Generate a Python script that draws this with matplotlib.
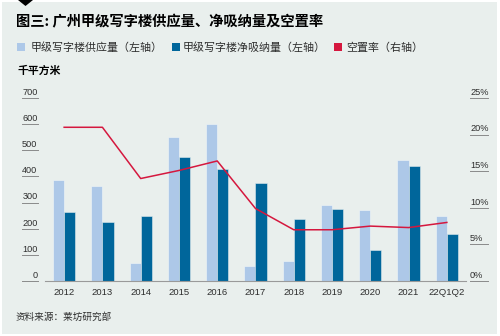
import matplotlib
matplotlib.use("Agg")
import matplotlib.pyplot as plt
import matplotlib.transforms as mtransforms
from matplotlib.patches import Rectangle, Polygon
import numpy as np

plt.rcParams['font.family'] = ['Noto Sans CJK SC', 'DejaVu Sans']

# ---- data ----
categories = ['2012', '2013', '2014', '2015', '2016', '2017', '2018',
              '2019', '2020', '2021', '22Q1Q2']
supply = [388, 363, 70, 550, 600, 57, 75, 291, 272, 463, 248]          # 千平方米
absorption = [264, 224, 247, 473, 427, 375, 236, 274, 117, 440, 181]   # 千平方米
vacancy = [21.0, 21.0, 14.0, 15.1, 16.4, 9.9, 7.0, 7.0, 7.5, 7.3, 8.0]  # %
left_ticks = [0, 100, 200, 300, 400, 500, 600, 700]
right_ticks = [0, 5, 10, 15, 20, 25]

title = '图三: 广州甲级写字楼供应量、净吸纳量及空置率'
legend_labels = ['甲级写字楼供应量（左轴）', '甲级写字楼净吸纳量（左轴）', '空置率（右轴）']
unit_label = '千平方米'
source = '资料来源：莱坊研究部'

# ---- style ----
W, H = 500, 336
BG = '#e9efed'
LIGHT = '#adc8e8'
DARK = '#00669b'
RED = '#d5173e'
TXT = '#2e2e2e'

fig = plt.figure(figsize=(W / 100, H / 100), dpi=100)
fig.patch.set_facecolor('white')


def fx(x):
    return x / W


def fy(y):
    return 1 - y / H


# panel background and marker
fig.add_artist(Rectangle((fx(2), fy(334)), fx(495), 332 / H, transform=fig.transFigure,
                         facecolor=BG, edgecolor='none', zorder=0))
fig.add_artist(Polygon([(fx(18), fy(0)), (fx(33), fy(0)), (fx(25.5), fy(6))],
                       closed=True, transform=fig.transFigure, facecolor='black',
                       edgecolor='none', zorder=1))

ax_left, ax_right, ax_top, ax_bottom = 45, 466, 98, 281
ax = fig.add_axes([fx(ax_left), fy(ax_bottom), (ax_right - ax_left) / W,
                   (ax_bottom - ax_top) / H])
ax.set_facecolor('none')
ax2 = ax.twinx()

x = np.arange(len(categories))
bw = 0.29
ax.bar(x - bw / 2, supply, bw, color=LIGHT, edgecolor='#f2f6f8', linewidth=0.4, zorder=2)
ax.bar(x + bw / 2, absorption, bw, color=DARK, edgecolor='#dfe9ee', linewidth=0.4, zorder=2)
ax.set_xlim(-0.5, len(categories) - 0.5)
ax.set_ylim(0, 700)

ax2.plot(x, vacancy, color=RED, linewidth=1.1, zorder=3)
ax2.set_ylim(0, 25)

for a in (ax, ax2):
    for s in a.spines.values():
        s.set_visible(False)
    a.set_yticks([])
ax.spines['bottom'].set_visible(True)
ax.spines['bottom'].set_color('#9a9a9a')
ax.spines['bottom'].set_linewidth(0.8)
ax.set_xticks(x)
ax.set_xticklabels(categories, fontsize=6.8, color=TXT, family=['Liberation Sans', 'DejaVu Sans'])
ax.tick_params(axis='x', length=0, pad=5)

# left tick labels with underline
bl = mtransforms.blended_transform_factory(fig.transFigure, ax.transData)
for v in left_ticks:
    ax.plot([fx(22), fx(38)], [v, v], transform=bl, color='#8a8a8a', lw=0.7, clip_on=False)
    ax.annotate(str(v), xy=(fx(37.5), v), xycoords=bl, xytext=(0, 0.8),
                textcoords='offset points', ha='right', va='bottom', fontsize=6.6,
                color=TXT, family=['Liberation Sans', 'DejaVu Sans'])

# right tick labels with underline
br = mtransforms.blended_transform_factory(fig.transFigure, ax2.transData)
for v in right_ticks:
    ax2.plot([fx(470), fx(488)], [v, v], transform=br, color='#8a8a8a', lw=0.7, clip_on=False)
    ax2.annotate(f'{v}%', xy=(fx(470), v), xycoords=br, xytext=(0, 0.8),
                 textcoords='offset points', ha='left', va='bottom', fontsize=6.6,
                 color=TXT, family=['Liberation Sans', 'DejaVu Sans'])

# title, legend, unit, source
fig.text(fx(16), fy(22), title, fontsize=10.3, fontweight='bold', color='black',
         ha='left', va='center')

legend_items = [(17, 30.5, LIGHT, legend_labels[0]),
                (172, 183, DARK, legend_labels[1]),
                (334, 346, RED, legend_labels[2])]
for sx, tx, c, lab in legend_items:
    fig.add_artist(Rectangle((fx(sx), fy(51)), fx(8), 8 / H, transform=fig.transFigure,
                             facecolor=c, edgecolor='none'))
    fig.text(fx(tx), fy(47.5), lab, fontsize=7.9, color=TXT, ha='left', va='center')

fig.text(fx(17), fy(71), unit_label, fontsize=7.8, fontweight='bold', color='black',
         ha='left', va='center')
fig.text(fx(16), fy(317), source, fontsize=6.9, color=TXT, ha='left', va='center')

fig.savefig('out.png', dpi=100, facecolor=fig.get_facecolor())
